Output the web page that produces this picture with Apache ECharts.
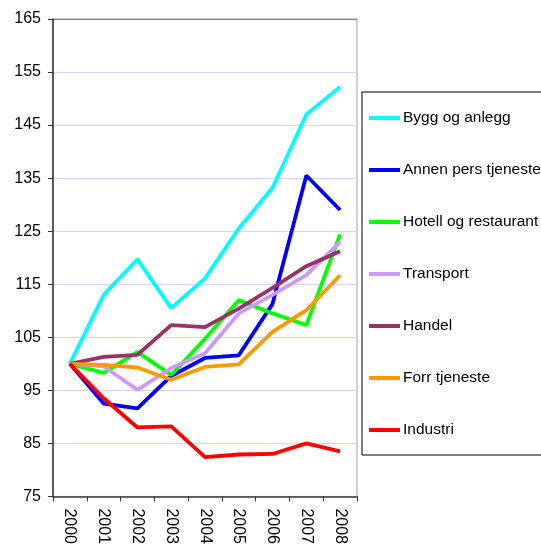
<!DOCTYPE html>
<html><head><meta charset="utf-8">
<script src="https://cdn.jsdelivr.net/npm/echarts@6/dist/echarts.min.js"></script>
<style>html,body{margin:0;padding:0;background:#fff}#c{width:541px;height:547px}</style>
</head><body><div id="c"></div>
<script>
const years = ['2000','2001','2002','2003','2004','2005','2006','2007','2008'];
const yTicks = [75, 85, 95, 105, 115, 125, 135, 145, 155, 165];
const seriesNames = ['Bygg og anlegg','Annen pers tjeneste','Hotell og restaurant','Transport','Handel','Forr tjeneste','Industri'];
const seriesColors = ['#00FFFF','#0000FF','#00FF00','#CC99FF','#993366','#FF9900','#FF0000'];
const bygg     = [100, 113.0, 119.7, 110.5, 116.1, 125.5, 133.2, 147.0, 152.2];
const annen    = [100, 92.5, 91.6, 97.7, 101.1, 101.6, 111.3, 135.5, 129.0];
const hotell   = [100, 98.3, 102.2, 97.9, 104.7, 112.0, 109.5, 107.3, 124.4];
const transport= [100, 99.5, 95.1, 99.2, 102.0, 109.5, 113.0, 116.7, 123.0];
const handel   = [100, 101.3, 101.7, 107.3, 106.9, 110.4, 114.3, 118.4, 121.2];
const forr     = [100, 99.8, 99.3, 97.0, 99.4, 99.9, 106.0, 110.1, 116.7];
const industri = [100, 93.5, 88.0, 88.2, 82.4, 82.9, 83.0, 85.0, 83.5];
const allData = [bygg, annen, hotell, transport, handel, forr, industri];

const font = 'Liberation Sans, Arial, sans-serif';
const chart = echarts.init(document.getElementById('c'));
const splitColors = yTicks.map((v, i) => i === yTicks.length - 1 ? '#808080' : '#d4d4fa');
chart.setOption({
  animation: false,
  backgroundColor: '#ffffff',
  grid: { left: 53, top: 19, width: 304, height: 479, show: true, borderColor: '#a0a0a0', borderWidth: 1, containLabel: false },
  xAxis: {
    type: 'category', data: years, boundaryGap: true,
    axisLine: { lineStyle: { color: '#333', width: 1.5 } },
    axisTick: { show: true, length: 5, alignWithLabel: false, lineStyle: { color: '#333' } },
    axisLabel: { rotate: -90, margin: 12, fontFamily: font, fontSize: 16, color: '#000' },
    splitLine: { show: false }
  },
  yAxis: {
    type: 'value', min: yTicks[0], max: yTicks[yTicks.length - 1], interval: 10,
    axisLine: { show: true, lineStyle: { color: '#333', width: 1.5 } },
    axisTick: { show: true, length: 5, lineStyle: { color: '#333' } },
    axisLabel: { margin: 12, fontFamily: font, fontSize: 16, color: '#000' },
    splitLine: { show: true, lineStyle: { color: splitColors, width: 1 } }
  },
  legend: {
    orient: 'vertical', left: 362, top: 92,
    padding: [17, 200, 16, 7],
    itemGap: 34, itemWidth: 31, itemHeight: 4, icon: 'rect',
    borderColor: '#000', borderWidth: 1, backgroundColor: '#fff',
    textStyle: { fontFamily: font, fontSize: 15.5, color: '#000', lineHeight: 18, padding: [0, 0, 0, -2] },
    data: seriesNames
  },
  series: seriesNames.map((n, i) => ({
    name: n, type: 'line', data: allData[i],
    symbol: 'none', showSymbol: false,
    lineStyle: { color: seriesColors[i], width: 3.8 },
    itemStyle: { color: seriesColors[i] }
  }))
});
</script></body></html>
